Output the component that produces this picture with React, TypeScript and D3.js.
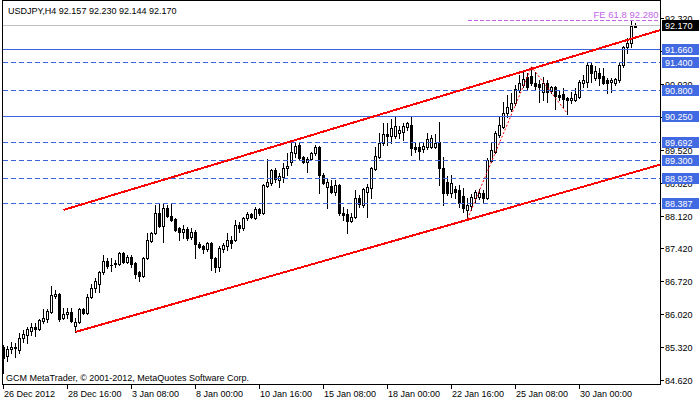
import React from "react";
import * as d3 from "d3";

const title = "USDJPY,H4  92.157 92.230 92.144 92.170";
const copyright = "GCM MetaTrader, \u00a9 2001-2012, MetaQuotes Software Corp.";

const opens = [
  85.33, 85.14, 85.29, 85.33, 85.27, 85.52, 85.59, 85.67, 85.76, 85.71,
  85.88, 85.93, 86.08, 86.42, 86.46, 85.95, 86.03, 86.08, 85.78, 85.86,
  86.14, 86.05, 86.40, 86.59, 86.67, 86.93, 87.16, 87.08, 87.10, 87.10,
  87.33, 87.14, 87.25, 87.12, 86.93, 86.84, 87.23, 87.59, 87.76, 88.18,
  87.91, 88.29, 88.12, 88.06, 87.86, 87.78, 87.84, 87.67, 87.78, 87.52,
  87.48, 87.42, 87.55, 87.23, 87.03, 87.42, 87.48, 87.61, 87.61, 87.93,
  87.86, 88.08, 88.16, 88.08, 88.27, 88.18, 88.76, 88.82, 89.10, 88.89,
  88.95, 89.14, 89.27, 89.46, 89.63, 89.38, 89.27, 89.33, 89.46, 89.59,
  88.99, 88.74, 88.76, 88.63, 88.78, 88.18, 88.16, 88.01, 88.10, 88.50,
  88.35, 88.63, 88.72, 89.12, 89.38, 89.68, 89.87, 89.82, 89.82, 89.89,
  89.91, 90.02, 90.06, 89.59, 89.59, 89.55, 89.59, 89.59, 89.59, 89.70,
  89.14, 88.84, 88.61, 88.70, 88.67, 88.55, 88.25, 88.33, 88.50, 88.53,
  88.61, 88.50, 89.29, 89.48, 89.85, 90.02, 90.31, 90.40, 90.53, 90.81,
  90.91, 91.08, 91.10, 90.95, 90.93, 90.76, 90.95, 90.78, 90.87, 90.70,
  90.72, 90.63, 90.59, 90.59, 90.66, 90.95, 90.98, 91.34, 91.06, 91.17,
  91.10, 91.02, 90.98, 90.95, 91.02, 91.34, 91.72, 91.81, 92.157,
];
const highs = [
  85.37, 85.35, 85.44, 85.41, 85.63, 85.69, 85.76, 85.84, 85.84, 85.93,
  86.14, 86.14, 86.63, 86.54, 86.48, 86.16, 86.16, 86.16, 85.95, 86.16,
  86.16, 86.46, 86.67, 86.80, 86.95, 87.29, 87.23, 87.23, 87.18, 87.35,
  87.35, 87.29, 87.29, 87.14, 86.95, 87.25, 87.76, 87.78, 88.35, 88.38,
  88.40, 88.35, 88.40, 88.08, 87.89, 87.93, 87.89, 87.86, 87.82, 87.57,
  87.50, 87.57, 87.57, 87.25, 87.48, 87.55, 87.76, 87.69, 88.04, 87.99,
  88.10, 88.21, 88.18, 88.31, 88.29, 88.80, 89.33, 89.12, 89.14, 89.04,
  89.25, 89.46, 89.68, 89.68, 89.68, 89.40, 89.38, 89.48, 89.63, 89.61,
  89.04, 88.93, 88.89, 88.89, 88.80, 88.31, 88.27, 88.18, 88.67, 88.57,
  88.72, 88.80, 89.16, 89.59, 89.89, 90.10, 90.10, 90.19, 90.23, 90.04,
  90.10, 90.12, 90.23, 89.70, 89.70, 89.68, 89.89, 89.85, 89.87, 90.12,
  89.38, 88.97, 88.99, 88.76, 88.78, 88.72, 88.50, 88.59, 88.67, 88.70,
  88.67, 89.36, 89.68, 89.93, 90.23, 90.55, 90.70, 90.74, 90.91, 91.12,
  91.19, 91.17, 91.30, 91.19, 91.02, 91.08, 91.02, 90.89, 90.89, 90.81,
  90.85, 90.66, 90.76, 90.85, 91.02, 91.12, 91.40, 91.40, 91.32, 91.27,
  91.27, 91.06, 91.06, 91.06, 91.38, 91.74, 91.91, 92.28, 92.23,
];
const lows = [
  84.78, 85.03, 85.20, 85.12, 85.20, 85.44, 85.41, 85.59, 85.56, 85.69,
  85.84, 85.86, 86.05, 86.37, 85.88, 85.93, 85.95, 85.86, 85.65, 85.84,
  86.03, 86.03, 86.37, 86.50, 86.50, 86.88, 87.01, 86.95, 87.03, 87.08,
  87.12, 87.12, 87.03, 86.80, 86.74, 86.82, 87.20, 87.57, 87.74, 87.89,
  87.57, 88.10, 88.01, 87.80, 87.61, 87.65, 87.61, 87.63, 87.23, 87.44,
  87.33, 87.38, 86.97, 86.93, 86.95, 87.35, 87.40, 87.44, 87.59, 87.78,
  87.82, 88.04, 88.08, 88.06, 88.14, 88.16, 88.74, 88.78, 88.84, 88.74,
  88.84, 88.99, 89.21, 89.38, 89.31, 89.25, 89.06, 89.31, 89.42, 88.61,
  88.80, 88.29, 88.61, 88.57, 88.14, 88.04, 87.76, 87.99, 88.08, 88.31,
  88.31, 88.10, 88.50, 89.10, 89.36, 89.63, 89.63, 89.68, 89.78, 89.78,
  89.74, 89.95, 89.42, 89.48, 89.31, 89.48, 89.55, 89.57, 89.57, 88.78,
  88.35, 88.57, 88.53, 88.50, 88.31, 88.21, 88.06, 88.25, 88.42, 88.48,
  88.40, 88.48, 89.27, 89.46, 89.80, 89.99, 90.23, 90.36, 90.49, 90.76,
  90.87, 90.81, 90.91, 90.81, 90.55, 90.59, 90.55, 90.74, 90.40, 90.59,
  90.44, 90.30, 90.53, 90.57, 90.63, 90.87, 90.87, 90.98, 91.02, 90.91,
  90.93, 90.74, 90.76, 90.91, 90.98, 91.30, 91.59, 91.72, 92.144,
];
const closes = [
  85.10, 85.29, 85.33, 85.31, 85.52, 85.61, 85.71, 85.76, 85.71, 85.91,
  85.95, 86.10, 86.44, 86.46, 85.93, 86.03, 86.08, 85.88, 85.86, 86.14,
  86.05, 86.40, 86.59, 86.74, 86.93, 87.16, 87.06, 87.07, 87.12, 87.33,
  87.14, 87.25, 87.10, 86.88, 86.84, 87.23, 87.61, 87.76, 88.18, 87.91,
  88.29, 88.12, 88.04, 87.82, 87.78, 87.84, 87.65, 87.78, 87.52, 87.46,
  87.42, 87.55, 87.23, 87.03, 87.44, 87.50, 87.61, 87.55, 87.93, 87.86,
  88.08, 88.16, 88.10, 88.27, 88.18, 88.78, 88.84, 89.10, 88.91, 88.97,
  89.14, 89.19, 89.48, 89.61, 89.36, 89.27, 89.33, 89.46, 89.59, 88.99,
  88.82, 88.84, 88.63, 88.78, 88.18, 88.14, 88.01, 88.10, 88.50, 88.38,
  88.70, 88.74, 89.14, 89.40, 89.68, 89.87, 89.82, 89.99, 90.04, 89.95,
  90.04, 90.10, 89.57, 89.55, 89.50, 89.61, 89.76, 89.78, 89.68, 89.14,
  88.61, 88.61, 88.82, 88.63, 88.40, 88.29, 88.35, 88.53, 88.63, 88.61,
  88.50, 89.31, 89.53, 89.89, 90.06, 90.31, 90.44, 90.53, 90.83, 90.95,
  91.04, 90.87, 90.95, 90.89, 90.87, 90.95, 90.76, 90.87, 90.68, 90.66,
  90.61, 90.59, 90.63, 90.72, 90.98, 91.02, 91.34, 91.17, 91.21, 91.06,
  90.95, 90.95, 91.02, 91.04, 91.34, 91.72, 91.81, 92.16, 92.17,
];

const timeLabels = [
  "26 Dec 2012", "28 Dec 16:00", "3 Jan 08:00", "8 Jan 00:00", "10 Jan 16:00",
  "15 Jan 08:00", "18 Jan 00:00", "22 Jan 16:00", "25 Jan 08:00", "30 Jan 00:00",
];
const timeLabelBars = [0, 16, 32, 48, 64, 80, 96, 112, 128, 144];

const priceTicks = [84.62, 85.32, 86.02, 86.72, 87.42, 88.12, 88.82, 89.52, 90.22, 90.92, 91.62, 92.32];

const levelValues = [91.66, 91.4, 90.8, 90.25, 89.692, 89.3, 88.923, 88.387];
const levelLabels = ["91.660", "91.400", "90.800", "90.250", "89.692", "89.300", "88.923", "88.387"];
const levelKinds = ["solid", "dash", "dash", "solid", "dash", "dash", "dash", "dash"];

const bidPrice = 92.17;
const bidLabel = "92.170";

const feLevel = 92.28;
const feLabel = "FE 61.8 92.280";
const feStartBar = 116;

const fiboBars = [116, 132, 141];
const fiboPrices = [88.06, 91.3, 90.3];

const upperTrendBars = [15, 73];
const upperTrendPrices = [88.25, 89.74];
const lowerTrendBars = [18, 116];
const lowerTrendPrices = [85.65, 88.04];

const W = 700;
const H = 402;
const LEFT = 2.5;
const RIGHT = 660.5;
const TOP = 0.5;
const BOTTOM = 384.5;
const FONT = "'Liberation Sans', Arial, sans-serif";
const BLUE_LINE = "#3a63dc";
const BLUE_BOX = "#4169e1";
const VIOLET = "#c266e6";

export default function App() {
  const x = d3.scaleLinear().domain([0, 1]).range([3.5, 7.5]);
  const y = d3.scaleLinear().domain([84.62, 92.32]).range([380.3, 18.9]);
  const cy = (v: number) => Math.floor(y(v)) + 0.5;

  const trend = (bars: number[], prices: number[]) => {
    const slope = (prices[1] - prices[0]) / (bars[1] - bars[0]);
    const endBar = x.invert(RIGHT);
    const endPrice = prices[0] + slope * (endBar - bars[0]);
    return d3.line<[number, number]>()
      .x((d) => x(d[0]))
      .y((d) => y(d[1]))([
        [bars[0], prices[0]],
        [endBar, endPrice],
      ]);
  };

  const fiboPath = d3.line<number>()
    .x((_, i) => x(fiboBars[i]))
    .y((d) => y(d))(fiboPrices);

  const candles = opens.map((o, i) => {
    const c = closes[i];
    const cx = x(i);
    const yo = Math.round(y(o)) + 0.5;
    const yc = Math.round(y(c)) + 0.5;
    const yh = Math.round(y(highs[i]));
    const yl = Math.round(y(lows[i])) + 1;
    const top = Math.min(yo, yc);
    const bot = Math.max(yo, yc);
    const bull = c >= o;
    return (
      <g key={i}>
        <line x1={cx} x2={cx} y1={yh} y2={yl} stroke="#000" strokeWidth={1} />
        {bot - top < 0.5 ? (
          <line x1={cx - 1.5} x2={cx + 1.5} y1={top} y2={top} stroke="#000" strokeWidth={1} />
        ) : (
          <rect x={cx - 1} y={top} width={2} height={bot - top} fill={bull ? "#fff" : "#000"} stroke="#000" strokeWidth={1} />
        )}
      </g>
    );
  });

  return (
    <svg width={W} height={H} style={{ position: "absolute", left: 0, top: 0, background: "#fff" }} shapeRendering="crispEdges">
      <rect x={0} y={0} width={W} height={H} fill="#fff" />
      <defs>
        <clipPath id="plot">
          <rect x={LEFT} y={TOP} width={RIGHT - LEFT} height={BOTTOM - TOP} />
        </clipPath>
      </defs>
      <g clipPath="url(#plot)">
        {candles}
        <line x1={LEFT} x2={RIGHT} y1={cy(bidPrice)} y2={cy(bidPrice)} stroke="#c0c0c0" />
        {levelValues.map((v, i) => (
          <line key={i} x1={LEFT} x2={RIGHT} y1={cy(v)} y2={cy(v)} stroke={BLUE_LINE} strokeWidth={1}
            strokeDasharray={levelKinds[i] === "dash" ? "5,3" : undefined} />
        ))}
        <line x1={x(feStartBar)} x2={RIGHT} y1={cy(feLevel)} y2={cy(feLevel)} stroke={VIOLET} strokeDasharray="4,2" />
        <path d={fiboPath || ""} fill="none" stroke="#ff0000" strokeWidth={1} strokeDasharray="2,2" shapeRendering="auto" />
        <path d={trend(upperTrendBars, upperTrendPrices) || ""} stroke="#ff0000" strokeWidth={2} fill="none" />
        <path d={trend(lowerTrendBars, lowerTrendPrices) || ""} stroke="#ff0000" strokeWidth={2} fill="none" />
      </g>
      <text x={RIGHT - 2} y={18} textAnchor="end" fontFamily={FONT} fontSize={9.5} fill={VIOLET}>{feLabel}</text>

      <rect x={LEFT} y={TOP} width={RIGHT - LEFT} height={BOTTOM - TOP} fill="none" stroke="#000" />

      {priceTicks.map((v, i) => (
        <g key={i}>
          <line x1={RIGHT} x2={RIGHT + 3} y1={cy(v)} y2={cy(v)} stroke="#000" />
          <text x={665} y={y(v) + 3.5} fontFamily={FONT} fontSize={9} fill="#000">{v.toFixed(3)}</text>
        </g>
      ))}
      {levelValues.map((v, i) => (
        <g key={i}>
          <rect x={662} y={Math.floor(y(v)) - 5} width={37} height={11} fill={BLUE_BOX} />
          <text x={665} y={y(v) + 3.5} fontFamily={FONT} fontSize={9} fill="#fff">{levelLabels[i]}</text>
        </g>
      ))}
      <rect x={662} y={Math.floor(y(bidPrice)) - 5} width={37} height={11} fill="#000" />
      <text x={665} y={y(bidPrice) + 3.5} fontFamily={FONT} fontSize={9} fill="#fff">{bidLabel}</text>

      {timeLabelBars.map((b, i) => (
        <g key={i}>
          <line x1={Math.floor(x(b)) + 0.5} x2={Math.floor(x(b)) + 0.5} y1={BOTTOM} y2={BOTTOM + 4} stroke="#000" />
          <text x={Math.floor(x(b)) + 1} y={397} fontFamily={FONT} fontSize={9} fill="#000">{timeLabels[i]}</text>
        </g>
      ))}

      <text x={8} y={14} fontFamily={FONT} fontSize={9} fill="#000">{title}</text>
      <text x={6} y={381} fontFamily={FONT} fontSize={9} fill="#000">{copyright}</text>
    </svg>
  );
}
